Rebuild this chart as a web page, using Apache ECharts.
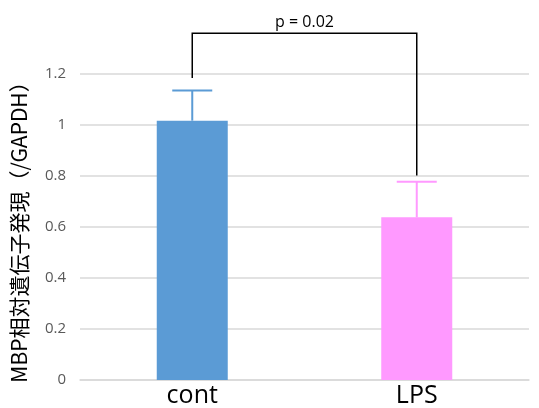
<!DOCTYPE html>
<html><head><meta charset="utf-8">
<script src="https://cdn.jsdelivr.net/npm/echarts@6/dist/echarts.min.js"></script>
<style>html,body{margin:0;padding:0;background:#fff}#c{width:539px;height:408px}</style>
</head><body><div id="c"></div>
<script>
var categories = ['cont', 'LPS'];
var means = [1.017, 0.638];
var errUpper = [1.135, 0.777];
var barColors = ['#5B9BD5', '#FF99FF'];
var yTicks = [0, 0.2, 0.4, 0.6, 0.8, 1, 1.2];
var bracketLegs = [1.184, 0.802];
var bracketTop = 1.36;
var pText = 'p = 0.02';

var chart = echarts.init(document.getElementById('c'));
chart.setOption({
  animation: false,
  grid: {left: 80, right: 10, top: 74, bottom: 27},
  xAxis: {
    type: 'category', data: categories,
    axisLine: {lineStyle: {color: '#D9D9D9', width: 1.5}},
    axisTick: {show: false},
    axisLabel: {color: '#000', fontSize: 25, fontFamily: 'Open Sans, sans-serif', margin: 3}
  },
  yAxis: {
    type: 'value', min: 0, max: 1.2, interval: 0.2,
    name: 'MBP相対遺伝子発現（/GAPDH）', nameLocation: 'middle', nameGap: 50,
    nameTextStyle: {color: '#000', fontSize: 21, fontFamily: 'Noto Sans CJK JP, sans-serif'},
    axisLine: {show: false}, axisTick: {show: false},
    axisLabel: {color: '#595959', fontSize: 15, fontFamily: 'Open Sans, sans-serif', margin: 14,
      formatter: function (v) { return String(Math.round(v * 10) / 10); }},
    splitLine: {lineStyle: {color: '#D9D9D9', width: 1.5}}
  },
  series: [
    {
      type: 'bar', barWidth: 71,
      data: means.map(function (v, i) { return {value: v, itemStyle: {color: barColors[i]}}; })
    },
    {
      type: 'custom', clip: false, z: 3,
      data: categories.map(function (c, i) { return [i, means[i], errUpper[i]]; }),
      renderItem: function (params, api) {
        var i = api.value(0);
        var p0 = api.coord([i, api.value(1)]);
        var p1 = api.coord([i, api.value(2)]);
        var col = barColors[i];
        var hw = 20;
        return {type: 'group', children: [
          {type: 'line', shape: {x1: p0[0], y1: p0[1], x2: p1[0], y2: p1[1]}, style: {stroke: col, lineWidth: 2}},
          {type: 'line', shape: {x1: p1[0] - hw, y1: p1[1], x2: p1[0] + hw, y2: p1[1]}, style: {stroke: col, lineWidth: 2}}
        ]};
      }
    },
    {
      type: 'custom', clip: false, z: 4,
      data: [[0, 1, bracketLegs[0], bracketLegs[1], bracketTop]],
      renderItem: function (params, api) {
        var a = api.coord([api.value(0), api.value(2)]);
        var b = api.coord([api.value(1), api.value(3)]);
        var t = api.coord([api.value(0), api.value(4)])[1];
        return {type: 'group', children: [
          {type: 'polyline', shape: {points: [[a[0], a[1]], [a[0], t], [b[0], t], [b[0], b[1]]]},
            style: {stroke: '#000', lineWidth: 1.5, fill: null}},
          {type: 'text', style: {text: pText, x: (a[0] + b[0]) / 2, y: t - 3, align: 'center', verticalAlign: 'bottom',
            fontSize: 16, fill: '#000', fontFamily: 'Open Sans, sans-serif'}}
        ]};
      }
    }
  ]
});
</script></body></html>
